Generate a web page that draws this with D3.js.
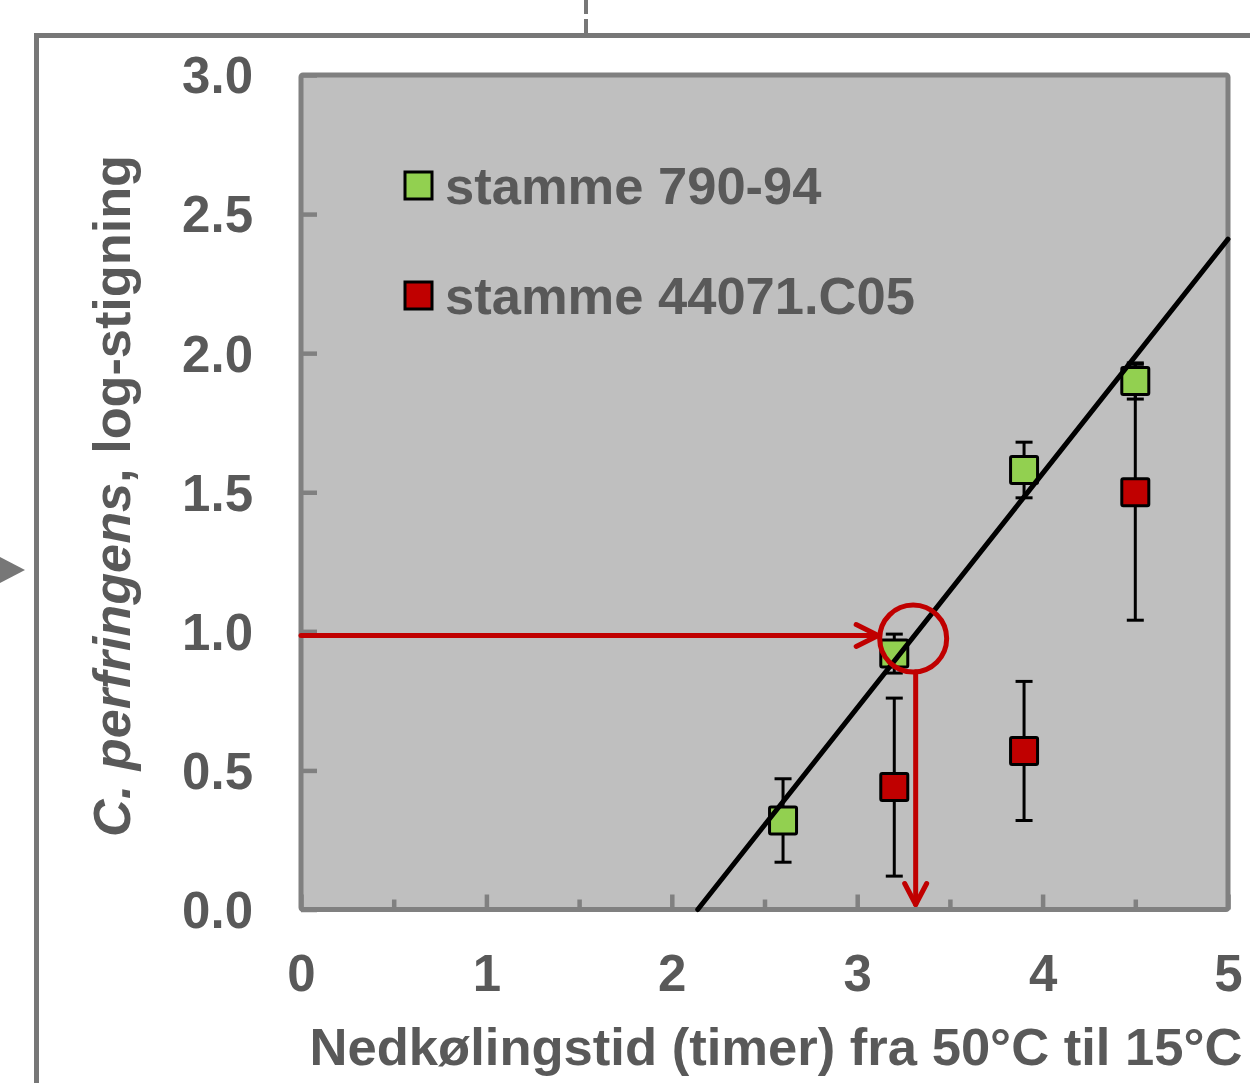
<!DOCTYPE html>
<html>
<head>
<meta charset="utf-8">
<script src="https://cdn.jsdelivr.net/npm/d3@7"></script>
<style>
	body { margin: 0; background: #fff; }
	svg { display: block; }
	text { font-family: "Liberation Sans", Arial, sans-serif; font-weight: bold; fill: #595959; }
</style>
</head>
<body>
<svg id="chart" width="1250" height="1083"></svg>
<script>
// series: strain 790-94 (green) and 44071.C05 (red)
var greenX = [2.6, 3.2, 3.9, 4.5];
var greenY = [0.32, 0.92, 1.58, 1.90];
var greenErr = [0.15, 0.07, 0.10, 0.065];

var redX = [3.2, 3.9, 4.5];
var redY = [0.44, 0.57, 1.50];
var redErr = [0.32, 0.25, 0.46];

// regression line end points
var trendX = [2.14, 5];
var trendY = [0, 2.41];

// annotation: read-off at log 1
var readY = 0.985;
var readX = 3.31;
var circleY = 0.974;

var xTicks = [0, 1, 2, 3, 4, 5];
var xMinorTicks = [0.5, 1.5, 2.5, 3.5, 4.5];
var yTicks = [0, 0.5, 1, 1.5, 2, 2.5, 3];

var legendNames = ["stamme 790-94", "stamme 44071.C05"];
var legendColors = ["#92d050", "#c00000"];

var svg = d3.select("#chart");

var x = d3.scaleLinear().domain([0, 5]).range([301, 1228]);
var y = d3.scaleLinear().domain([0, 3]).range([909.5, 75]);

// outer frame of the figure
svg.append("rect")
	.attr("x", 36.5)
	.attr("y", 35.5)
	.attr("width", 1300)
	.attr("height", 1200)
	.style("fill", "none")
	.style("stroke", "#777")
	.style("stroke-width", 5);

svg.append("line")
	.attr("x1", 586).attr("x2", 586)
	.attr("y1", 0).attr("y2", 34)
	.style("stroke", "#777")
	.style("stroke-width", 4)
	.style("stroke-dasharray", "14 5");

svg.append("path")
	.attr("d", "M0,557 L25,570 L0,583 Z")
	.style("fill", "#777");

// plot area
svg.append("rect")
	.attr("x", x(0))
	.attr("y", y(3))
	.attr("width", x(5) - x(0))
	.attr("height", y(0) - y(3))
	.attr("rx", 2)
	.style("fill", "#bfbfbf")
	.style("stroke", "#808080")
	.style("stroke-width", 5);

var yAxis = svg.append("g")
	.attr("transform", "translate(" + x(0) + ",0)")
	.call(d3.axisLeft(y).tickValues(yTicks).tickFormat(d3.format(".1f"))
		.tickSizeInner(-16).tickSizeOuter(0).tickPadding(48));

var xAxis = svg.append("g")
	.attr("transform", "translate(0," + y(0) + ")")
	.call(d3.axisBottom(x).tickValues(xTicks).tickFormat(d3.format("d"))
		.tickSizeInner(-15).tickSizeOuter(0).tickPadding(45));

var xMinor = svg.append("g")
	.attr("transform", "translate(0," + y(0) + ")")
	.call(d3.axisBottom(x).tickValues(xMinorTicks).tickFormat("")
		.tickSizeInner(-10).tickSizeOuter(0));

[yAxis, xAxis, xMinor].forEach((g) => {
	g.select(".domain").remove();
	g.selectAll(".tick line")
		.style("stroke", "#808080")
		.style("stroke-width", 4.5);
	g.selectAll(".tick text")
		.attr("fill", null)
		.style("font-size", "51px");
});
yAxis.selectAll(".tick text").attr("dy", "0.35em");

// error bars
var bars = [];
greenX.forEach((d, i) => { bars.push({x: d, y: greenY[i], e: greenErr[i]}); });
redX.forEach((d, i) => { bars.push({x: d, y: redY[i], e: redErr[i]}); });

var errG = svg.append("g")
	.style("stroke", "#000")
	.style("stroke-width", 3);

bars.forEach((d) => {
	errG.append("line")
		.attr("x1", x(d.x)).attr("x2", x(d.x))
		.attr("y1", y(d.y - d.e)).attr("y2", y(d.y + d.e));
	[d.y - d.e, d.y + d.e].forEach((v) => {
		errG.append("line")
			.attr("x1", x(d.x) - 8.5).attr("x2", x(d.x) + 8.5)
			.attr("y1", y(v)).attr("y2", y(v));
	});
});

// markers
var size = 27;
function drawMarkers(xs, ys, color) {
	svg.append("g").selectAll("rect")
		.data(xs)
	.enter().append("rect")
		.attr("x", (d) => x(d) - size / 2)
		.attr("y", (d, i) => y(ys[i]) - size / 2)
		.attr("width", size)
		.attr("height", size)
		.attr("rx", 1.5)
		.style("fill", color)
		.style("stroke", "#000")
		.style("stroke-width", 3);
}
drawMarkers(redX, redY, legendColors[1]);
drawMarkers(greenX, greenY, legendColors[0]);

// regression line
svg.append("line")
	.attr("x1", x(trendX[0])).attr("y1", y(trendY[0]))
	.attr("x2", x(trendX[1])).attr("y2", y(trendY[1]))
	.style("stroke", "#000")
	.style("stroke-width", 5)
	.style("stroke-linecap", "round");

// legend
legendNames.forEach((name, i) => {
	var top = 172 + i * 110;
	svg.append("rect")
		.attr("x", 405)
		.attr("y", top)
		.attr("width", 27)
		.attr("height", 27)
		.style("fill", legendColors[i])
		.style("stroke", "#000")
		.style("stroke-width", 3);
	svg.append("text")
		.attr("x", 445)
		.attr("y", top + 32)
		.style("font-size", "52.5px")
		.text(name);
});

// red read-off arrows and circle
var red = "#c00000";
var annot = svg.append("g")
	.style("fill", "none")
	.style("stroke", red)
	.style("stroke-width", 5)
	.style("stroke-linecap", "round")
	.style("stroke-linejoin", "round");

var circleR = 33.5;
var arrowEnd = x(readX) - circleR - 3;

annot.append("line")
	.attr("x1", x(0)).attr("x2", arrowEnd)
	.attr("y1", y(readY)).attr("y2", y(readY));
annot.append("path")
	.attr("d", "M" + (arrowEnd - 22) + "," + (y(readY) - 11) +
		" L" + arrowEnd + "," + y(readY) +
		" L" + (arrowEnd - 22) + "," + (y(readY) + 11));

annot.append("circle")
	.attr("cx", x(readX) - 1.5)
	.attr("cy", y(circleY))
	.attr("r", circleR);

var arrowBottom = y(0) - 5;
annot.append("line")
	.attr("x1", x(readX) + 1).attr("x2", x(readX) + 1)
	.attr("y1", y(circleY) + circleR).attr("y2", arrowBottom);
annot.append("path")
	.attr("d", "M" + (x(readX) + 1 - 11) + "," + (arrowBottom - 21) +
		" L" + (x(readX) + 1) + "," + arrowBottom +
		" L" + (x(readX) + 1 + 11) + "," + (arrowBottom - 21));

// axis titles
svg.append("text")
	.attr("x", 776)
	.attr("y", 1065)
	.attr("text-anchor", "middle")
	.attr("textLength", 933)
	.attr("lengthAdjust", "spacingAndGlyphs")
	.style("font-size", "52px")
	.text("Nedkølingstid (timer) fra 50°C til 15°C");

var yTitle = svg.append("text")
	.attr("transform", "translate(130,496) rotate(-90)")
	.attr("text-anchor", "middle")
	.attr("textLength", 682)
	.attr("lengthAdjust", "spacingAndGlyphs")
	.style("font-size", "52px");
yTitle.append("tspan").style("font-style", "italic").text("C. perfringens");
yTitle.append("tspan").text(", log-stigning");
</script>
</body>
</html>
